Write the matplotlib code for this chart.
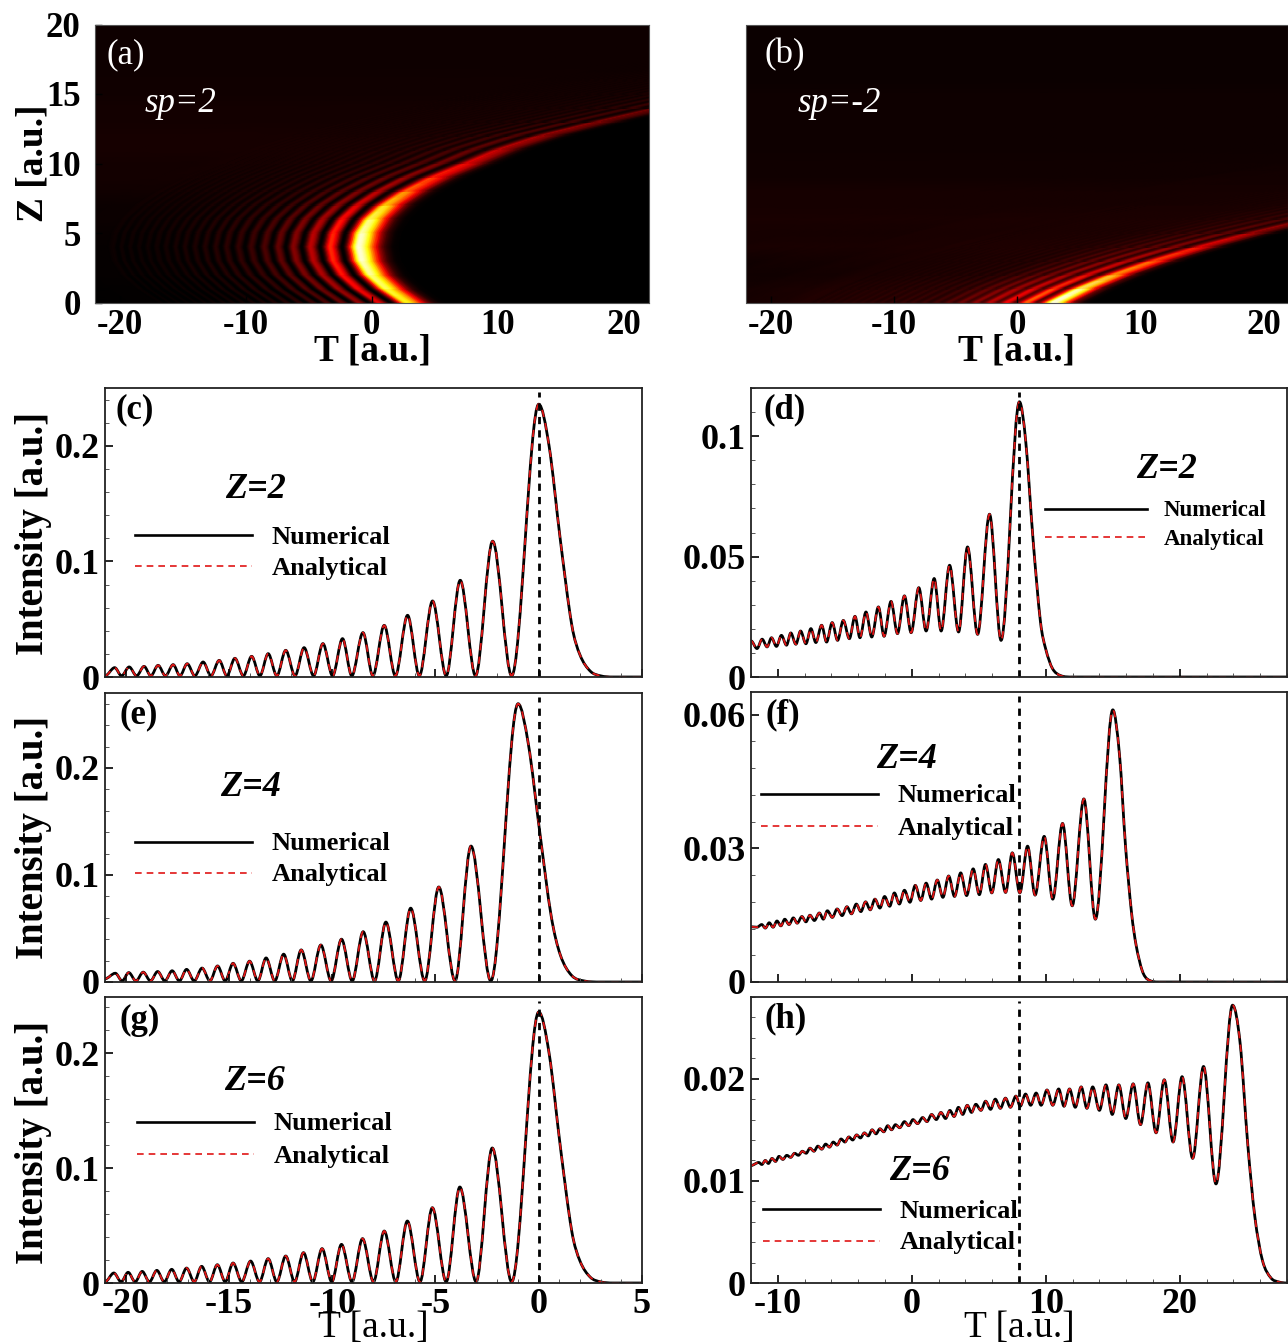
#Airy pulse maps (a,b) and intensity cuts (c-h)
import numpy as np
import matplotlib
matplotlib.use("Agg")
import matplotlib.pyplot as plt
from matplotlib.colors import LinearSegmentedColormap
from matplotlib.lines import Line2D
from matplotlib.patches import PathPatch
from matplotlib.path import Path
from matplotlib.ticker import MultipleLocator
from matplotlib.transforms import Affine2D

#Values: peaks, troughs and the smooth flanks of the main lobe
c_peak_t = [-20.53, -19.83, -19.11, -18.43, -17.7, -17.02, -16.25, -15.47, -14.71, -13.9, -13.1,
            -12.25, -11.36, -10.45, -9.5, -8.51, -7.48, -6.35, -5.14, -3.8, -2.23, 0]
c_peak_i = [.0081, .0087, .0092, .0101, .0107, .0115, .013, .0144, .0162, .0179, .0202,
            .0231, .0254, .0289, .0332, .0384, .0447, .0534, .0658, .0837, .1175, .236]
c_low_t = [-21, -20.2, -19.47, -18.78, -18.07, -17.37, -16.65, -15.87, -15.1, -14.3, -13.5,
           -12.68, -11.8, -10.9, -9.98, -9.05, -8.03, -6.94, -5.78, -4.48, -3.06, -1.31]
c_low_i = [.001] * 22
c_side_t = [.5, 1.05, 1.6, 2.0, 2.5, 3.0, 3.6, 5]
c_side_i = [.2, .118, .045, .019, .005, .001, 0, 0]

e_peak_t = [-20.5, -19.85, -19.15, -18.45, -17.75, -17.05, -16.3, -15.55, -14.8, -14.0, -13.2,
            -12.35, -11.5, -10.55, -9.55, -8.5, -7.4, -6.2, -4.84, -3.28, -1.0]
e_peak_i = [.0082, .0088, .0092, .0098, .0105, .0118, .013, .015, .0175, .0195, .0225,
            .026, .03, .0346, .04, .047, .056, .069, .0888, .127, .26]
e_low_t = [-21, -20.17, -19.5, -18.8, -18.1, -17.4, -16.68, -15.92, -15.18, -14.4, -13.6,
           -12.78, -11.93, -11.03, -10.05, -9.03, -7.95, -6.8, -5.52, -4.05, -2.32]
e_low_i = [.003] + [.001] * 20
e_side_t = [-.5, .05, .6, 1.05, 1.6, 2.2, 3, 5]
e_side_i = [.222, .14, .062, .025, .006, .001, 0, 0]

g_peak_t = [-20.57, -19.88, -19.2, -18.49, -17.77, -17.05, -16.32, -15.56, -14.8, -13.95, -13.1,
            -12.25, -11.39, -10.49, -9.55, -8.53, -7.48, -6.36, -5.15, -3.82, -2.25, 0]
g_peak_i = [.0087, .0093, .0101, .011, .0119, .013, .0145, .0159, .0174, .0191, .0212,
            .0235, .0264, .0299, .0336, .0386, .0452, .0539, .0655, .0835, .1174, .2357]
g_low_t = [-21, -20.22, -19.54, -18.85, -18.13, -17.41, -16.68, -15.94, -15.18, -14.38, -13.52,
           -12.68, -11.82, -10.94, -10.02, -9.04, -8.0, -6.92, -5.75, -4.48, -3.03, -1.31]
g_low_i = [.001] * 22
g_side_t = [.5, 1.05, 1.6, 2.0, 2.5, 3.0, 3.6, 5]
g_side_i = [.2, .118, .045, .019, .005, .001, 0, 0]

d_peak_t = [-11.17, -10.47, -9.73, -9.03, -8.3, -7.53, -6.73, -5.94, -5.11, -4.24, -3.42,
            -2.49, -1.55, -.55, .52, 1.67, 2.82, 4.16, 5.8, 8.03]
d_peak_i = [.0157, .0163, .0173, .0183, .0191, .0201, .0215, .0226, .0235, .0252, .027,
            .0291, .0314, .0337, .0371, .0409, .0464, .054, .0676, .1143]
d_low_t = [-12, -11.55, -10.8, -10.1, -9.35, -8.65, -7.9, -7.16, -6.36, -5.54, -4.66,
           -3.87, -2.99, -2.07, -1.07, -.05, 1.07, 2.19, 3.49, 4.91, 6.66]
d_low_i = [.015, .0118, .0125, .0127, .0132, .0136, .0138, .0143, .0145, .0152, .0159,
           .0163, .0166, .0169, .018, .0184, .0191, .0191, .0187, .0177, .0152]
d_side_t = [8.5, 9.05, 9.6, 10.0, 10.5, 11.1, 12, 28]
d_side_i = [.098, .057, .023, .0115, .0035, .0006, 0, 0]

f_peak_t = [-11.2, -10.64, -10.06, -9.48, -8.84, -8.2, -7.6, -6.9, -6.3, -5.57, -4.84,
            -4.14, -3.45, -2.75, -2.03, -1.3, -.55, .26, 1.07, 1.9, 2.75, 3.65,
            4.58, 5.5, 6.46, 7.5, 8.64, 9.88, 11.25, 12.84, 15.0]
f_peak_i = [.0129, .0133, .0137, .0141, .0144, .0147, .015, .0155, .016, .0164, .0169,
            .0175, .018, .0186, .0192, .02, .0206, .0217, .0222, .0229, .0238, .0245,
            .0254, .0264, .0275, .029, .0305, .0327, .0356, .0411, .0611]
f_low_t = [-12, -11.55, -10.93, -10.35, -9.77, -9.16, -8.55, -7.9, -7.27, -6.6, -5.93, -5.2,
           -4.5, -3.8, -3.1, -2.38, -1.65, -.93, -.14, .67, 1.48, 2.32, 3.19,
           4.09, 5.04, 5.97, 7.0, 8.06, 9.2, 10.52, 11.97, 13.7]
f_low_i = [.0124, .0123, .0121, .0123, .0126, .0129, .0132, .0135, .0138, .0141, .0145, .0149,
           .0153, .0158, .0162, .0166, .017, .0175, .0179, .0183, .0186, .019, .0192,
           .0194, .0196, .02, .0201, .02, .0195, .0186, .0171, .0141]
f_side_t = [15.5, 15.95, 16.4, 16.75, 17.2, 17.6, 18.4, 28]
f_side_i = [.051, .0305, .0155, .0081, .0025, .0006, 0, 0]

h_peak_t = [-11.42, -10.93, -10.43, -9.91, -9.33, -8.75, -8.17, -7.6, -7.01, -6.43, -5.86,
            -5.28, -4.7, -4.12, -3.54, -2.96, -2.38, -1.8, -1.22, -.55, .09, .81,
            1.48, 2.17, 2.84, 3.48, 4.14, 4.78, 5.51, 6.23, 6.99, 7.77, 8.49,
            9.28, 10.09, 10.96, 11.77, 12.64, 13.5, 14.49, 15.45, 16.52, 17.62, 18.84, 20.17, 21.77, 23.94]
h_peak_i = [.0118, .012, .0122, .0124, .0125, .0127, .0129, .0132, .0134, .0136, .0138,
            .0141, .0143, .0145, .0147, .015, .0151, .0154, .0155, .0158, .016, .0162,
            .0165, .0167, .0169, .0172, .0174, .0175, .0178, .018, .0181, .0183, .0185,
            .0186, .0189, .019, .019, .0192, .0192, .0194, .0194, .0195, .0196, .0199, .0202, .0212, .0272]
h_low_t = [-12, -11.19, -10.7, -10.17, -9.62, -9.04, -8.46, -7.88, -7.3, -6.72, -6.14, -5.57,
           -4.99, -4.41, -3.83, -3.25, -2.67, -2.09, -1.51, -.9, -.23, .43, 1.13,
           1.83, 2.52, 3.16, 3.8, 4.46, 5.16, 5.88, 6.61, 7.36, 8.09,
           8.87, 9.65, 10.52, 11.36, 12.2, 13.07, 14, 14.96, 15.97, 17.07, 18.23, 19.5, 20.96, 22.7]
h_low_i = [.0115, .0116, .0117, .0119, .0121, .0123, .0125, .0127, .0129, .0131, .0133, .0135,
           .0138, .014, .0142, .0144, .0146, .0148, .015, .0152, .0154, .0156, .0158,
           .016, .0161, .0163, .0165, .0167, .0169, .017, .0171, .0172, .0173,
           .0174, .0174, .0174, .0173, .0172, .0171, .0169, .0165, .0161, .0155, .0147, .0138, .0122, .0097]
h_side_t = [24.5, 25.07, 25.6, 26.17, 26.8, 27.4, 28]
h_side_i = [.0235, .0136, .0065, .0022, .0005, .0001, 0]

#Rows of the two maps: how far each fringe has moved, how bright it is, haze above it
z_rows = list(range(21))
a_bend = [3.85, 2.2, .95, .25, 0, .25, .95, 2.15, 3.85, 6, 8.7, 11.3, 14.7, 19.2, 24, 29, 34.5, 40.5, 47, 54, 61.5]
a_fade = [.75, .85, .91, .98, 1, .97, .88, .72, .56, .43, .33, .26, .21, .17, .14, .12, .1, .08, .06, .05, .04]
a_haze = [0, 0, .001, .001, .001, .002, .003, .004, .006, .007, .008, .009, .009, .008, .008, .007, .007, .006, .006, .006, .006]
a_stripes = [25, 25, 25, 25, 25, 25, 25, 24, 22, 19, 15, 12, 9, 7, 6, 5, 5, 5, 5, 5, 5]
a_far_t = [-85, -30, -23]
a_far_i = [.003, .003, .003]
a_end_t = [23]
a_end_i = [0]

b_bend = [-5, -2.75, 0, 3.25, 7, 11.25, 16, 21.25, 27, 33.25, 40, 47.25, 55, 63.25, 72, 81.25, 91, 101.25, 112, 123.25, 135]
b_fade = [1.7, 1.45, 1, .8, .55, .36, .24, .17, .12, .09, .07, .05, .04, .03, .03, .02, .02, .02, .01, .01, .01]
b_haze = [.002, .003, .003, .004, .006, .006, .007, .006, .006, .005, .005, .004, .004, .004, .004, .004, .003, .003, .003, .003, .003]
b_stripes = [22, 22, 22, 21, 20, 18, 15, 12, 9, 7, 6, 5, 5, 5, 5, 5, 5, 5, 5, 5, 5]
b_far_t = [-160, -60, -30, -20, -14]
b_far_i = [.002, .003, .004, .006, .011]

W, H = 1288, 1344
plt.rcParams["font.family"] = ["Liberation Serif", "DejaVu Serif"]
plt.rcParams["axes.unicode_minus"] = False
fig = plt.figure(figsize=(W / 100, H / 100), dpi=100)
cmap = LinearSegmentedColormap.from_list("fire", [(0, "#000000"), (.365, "#ff0000"), (.746, "#ffff00"), (1, "#ffffff")])


def make_axes(x0, y0, x1, y1):
    return fig.add_axes([x0 / W, 1 - y1 / H, (x1 - x0) / W, (y1 - y0) / H])


def knots(*pairs):
    t = np.concatenate([p[0] for p in pairs]).astype(float)
    i = np.concatenate([p[1] for p in pairs]).astype(float)
    order = np.argsort(t)
    return t[order], i[order]


def curve_path(t, i):
    #bezier through the read knots, flat at every peak and trough
    slope = np.zeros(len(t))
    for k in range(1, len(t) - 1):
        if (i[k] - i[k - 1]) * (i[k + 1] - i[k]) > 0:
            slope[k] = (i[k + 1] - i[k - 1]) / (t[k + 1] - t[k - 1])
    verts = [(t[0], i[0])]
    codes = [Path.MOVETO]
    for k in range(len(t) - 1):
        dt = (t[k + 1] - t[k]) / 3
        verts += [(t[k] + dt, i[k] + slope[k] * dt), (t[k + 1] - dt, i[k + 1] - slope[k + 1] * dt), (t[k + 1], i[k + 1])]
        codes += [Path.CURVE4, Path.CURVE4, Path.CURVE4]
    return Path(verts, codes)


def draw_map(ax, t, i, bend, fade, haze, stripes, main_t, vmax, dim_from, dim_span, dim_floor):
    #the fringes are the same stroke as the cut, flattened by matplotlib, sheared row by row
    scale = Affine2D().scale(60, 6000)
    line = curve_path(t, i).to_polygons(scale, closed_only=False)[0]
    t = line[:, 0] / 60
    i = line[:, 1] / 6000
    bend = np.array(bend)[:, None]
    fade = np.array(fade)[:, None]
    haze = np.array(haze)[:, None]
    stripes = np.array(stripes)[:, None]
    width = 9
    flat = np.convolve(i, np.ones(width) / width, mode="same")
    keep = np.clip((t - (main_t - stripes)) / 2, 0, 1)
    dim = np.clip(1 - (main_t - dim_from - t) / dim_span, dim_floor, 1)
    level = fade * dim * (keep * i + (1 - keep) * flat) + haze * (t <= main_t)
    X = t + bend
    Y = np.repeat(np.array(z_rows, dtype=float)[:, None], len(t), axis=1)
    ax.set_facecolor("black")
    ax.pcolormesh(X, Y, level, shading="gouraud", cmap=cmap, vmin=0, vmax=vmax)
    ax.set_xlim(-22, 22)
    ax.set_ylim(0, 20)
    ax.set_xticks([-20, -10, 0, 10, 20])
    ax.set_xticklabels(["-20", "-10", "0", "10", "20"])
    ax.tick_params(axis="both", direction="in", length=5, width=1, labelsize=25, pad=5)
    for lab in ax.get_xticklabels() + ax.get_yticklabels():
        lab.set_fontweight("bold")
    for s in ax.spines.values():
        s.set_linewidth(.8)
        s.set_color("#555555")


def draw_cut(ax, t, i, xlim, ylim, vline, xticks, yticks, ylabels, xminor, yminor, show_x):
    path = curve_path(t, i)
    ax.add_patch(PathPatch(path, fill=False, ec="black", lw=2.0, capstyle="round", joinstyle="round"))
    ax.add_patch(PathPatch(path, fill=False, ec="#e01515", lw=1.3, ls=(0, (4, 3.5))))
    ax.axvline(vline, color="black", lw=2.0, ls=(0, (2.6, 2.2)), ymax=.985)
    ax.set_xlim(*xlim)
    ax.set_ylim(*ylim)
    ax.set_xticks(xticks)
    ax.set_yticks(yticks)
    ax.set_yticklabels(ylabels)
    ax.xaxis.set_minor_locator(MultipleLocator(xminor))
    ax.yaxis.set_minor_locator(MultipleLocator(yminor))
    ax.tick_params(which="major", direction="in", length=6, width=1.2, labelsize=26, pad=4)
    ax.tick_params(which="minor", direction="in", length=3, width=.7, color="#555555")
    ax.tick_params(axis="x", labelbottom=show_x, pad=3.5)
    for lab in ax.get_xticklabels() + ax.get_yticklabels():
        lab.set_fontweight("bold")
    for s in ax.spines.values():
        s.set_linewidth(1.3)
        s.set_color("#222222")


def put_text(x, y, s, **kw):
    fig.text(x / W, 1 - y / H, s, **kw)


def put_legend(x0, x1, y0, y1, xt, size):
    fig.add_artist(Line2D([x0 / W, x1 / W], [1 - y0 / H] * 2, color="black", lw=1.9))
    fig.add_artist(Line2D([x0 / W, x1 / W], [1 - y1 / H] * 2, color="#e01515", lw=1.2, ls=(0, (4, 3))))
    put_text(xt, y0 + 2, "Numerical", fontsize=size, fontweight="bold", va="center")
    put_text(xt, y1 + 2, "Analytical", fontsize=size, fontweight="bold", va="center")


def put_axis_label(ax, which, s, x, y, **kw):
    if which == "x":
        ax.set_xlabel(s, **kw)
        ax.xaxis.set_label_coords(x / W, 1 - y / H, transform=fig.transFigure)
        ax.xaxis.label.set_va("center")
    else:
        ax.set_ylabel(s, **kw)
        ax.yaxis.set_label_coords(x / W, 1 - y / H, transform=fig.transFigure)
        ax.yaxis.label.set_va("center")


#Maps
ax_a = make_axes(94.5, 24.5, 649, 302.5)
t_a, i_a = knots((a_far_t, a_far_i), (e_peak_t, e_peak_i), (e_low_t, e_low_i), (e_side_t, e_side_i), (a_end_t, a_end_i))
ax_a.set_yticks([0, 5, 10, 15, 20])
draw_map(ax_a, t_a, i_a, a_bend, a_fade, a_haze, a_stripes, -1.0, .27, .5, 18, .55)
ax_a.tick_params(axis="y", pad=10)
put_axis_label(ax_a, "x", "T [a.u.]", 372, 351, fontsize=27, fontweight="bold")
put_axis_label(ax_a, "y", "Z [a.u.]", 33, 163, fontsize=27, fontweight="bold")

ax_b = make_axes(746.5, 24.5, 1288, 302.5)
t_b, i_b = knots((b_far_t, b_far_i), (d_peak_t, d_peak_i), (d_low_t, d_low_i), (d_side_t, d_side_i))
ax_b.set_yticks([0, 5, 10, 15, 20])
draw_map(ax_b, t_b, i_b, b_bend, b_fade, b_haze, b_stripes, 8.03, .19, .5, 13, .3)
ax_b.tick_params(axis="y", labelleft=False, length=0)
put_axis_label(ax_b, "x", "T [a.u.]", 1016, 351, fontsize=27, fontweight="bold")

put_text(126, 55, "(a)", color="white", fontsize=25, ha="center", va="center")
put_text(785, 55, "(b)", color="white", fontsize=25, ha="center", va="center")
put_text(180, 104, "sp=2", color="white", fontsize=25, style="italic", ha="center", va="center")
put_text(839, 104, "sp=-2", color="white", fontsize=25, style="italic", ha="center", va="center")

#Cuts, left column
x_left = [-20, -15, -10, -5, 0, 5]
ax_c = make_axes(105, 388, 642, 677)
t_c, i_c = knots((c_peak_t, c_peak_i), (c_low_t, c_low_i), (c_side_t, c_side_i))
draw_cut(ax_c, t_c, i_c, (-21, 5), (0, .25), 0, x_left, [0, .1, .2], ["0", "0.1", "0.2"], 2, .02, False)
put_axis_label(ax_c, "y", "Intensity [a.u.]", 34, 533, fontsize=28, fontweight="bold")

ax_e = make_axes(105, 693, 642, 982)
t_e, i_e = knots((e_peak_t, e_peak_i), (e_low_t, e_low_i), (e_side_t, e_side_i))
draw_cut(ax_e, t_e, i_e, (-21, 5), (0, .27), 0, x_left, [0, .1, .2], ["0", "0.1", "0.2"], 2, .02, False)
put_axis_label(ax_e, "y", "Intensity [a.u.]", 34, 837, fontsize=28, fontweight="bold")

ax_g = make_axes(105, 997, 642, 1283)
t_g, i_g = knots((g_peak_t, g_peak_i), (g_low_t, g_low_i), (g_side_t, g_side_i))
draw_cut(ax_g, t_g, i_g, (-21, 5), (0, .2487), 0, x_left, [0, .1, .2], ["0", "0.1", "0.2"], 1, .02, True)
put_axis_label(ax_g, "y", "Intensity [a.u.]", 34, 1142, fontsize=28, fontweight="bold")
put_axis_label(ax_g, "x", "T [a.u.]", 373, 1328, fontsize=27)

#Cuts, right column
x_right = [-10, 0, 10, 20]
ax_d = make_axes(751, 388, 1287, 677)
t_d, i_d = knots((d_peak_t, d_peak_i), (d_low_t, d_low_i), (d_side_t, d_side_i))
draw_cut(ax_d, t_d, i_d, (-12, 28), (0, .12), 8, x_right, [0, .05, .1], ["0", "0.05", "0.1"], 2, .01, False)

ax_f = make_axes(751, 692, 1287, 982)
t_f, i_f = knots((f_peak_t, f_peak_i), (f_low_t, f_low_i), (f_side_t, f_side_i))
draw_cut(ax_f, t_f, i_f, (-12, 28), (0, .0651), 8, x_right, [0, .03, .06], ["0", "0.03", "0.06"], 2, .006, False)

ax_h = make_axes(751, 997, 1287, 1283)
t_h, i_h = knots((h_peak_t, h_peak_i), (h_low_t, h_low_i), (h_side_t, h_side_i))
draw_cut(ax_h, t_h, i_h, (-12, 28), (0, .028), 8, x_right, [0, .01, .02], ["0", "0.01", "0.02"], 2, .002, True)
put_axis_label(ax_h, "x", "T [a.u.]", 1019, 1328, fontsize=27)

#Panel letters, Z tags, legends
for x, y, s in [(135, 410, "(c)"), (785, 410, "(d)"), (139, 715, "(e)"), (783, 715, "(f)"), (140, 1020, "(g)"), (786, 1019, "(h)")]:
    put_text(x, y, s, fontsize=25, fontweight="bold", ha="center", va="center")
for x, y, s in [(256, 490, "Z=2"), (1167, 470, "Z=2"), (251, 788, "Z=4"), (907, 760, "Z=4"), (255, 1082, "Z=6"), (920, 1171, "Z=6")]:
    put_text(x, y, s, fontsize=26, fontweight="bold", style="italic", ha="center", va="center")

put_legend(135, 252, 535, 566, 272, 19)
put_legend(1045, 1147, 509, 537, 1164, 16.5)
put_legend(135, 252, 842, 873, 272, 19)
put_legend(761, 878, 794, 826, 898, 19)
put_legend(137, 254, 1122, 1154, 274, 19)
put_legend(763, 880, 1209, 1241, 900, 19)

fig.savefig("out.png", dpi=100)
